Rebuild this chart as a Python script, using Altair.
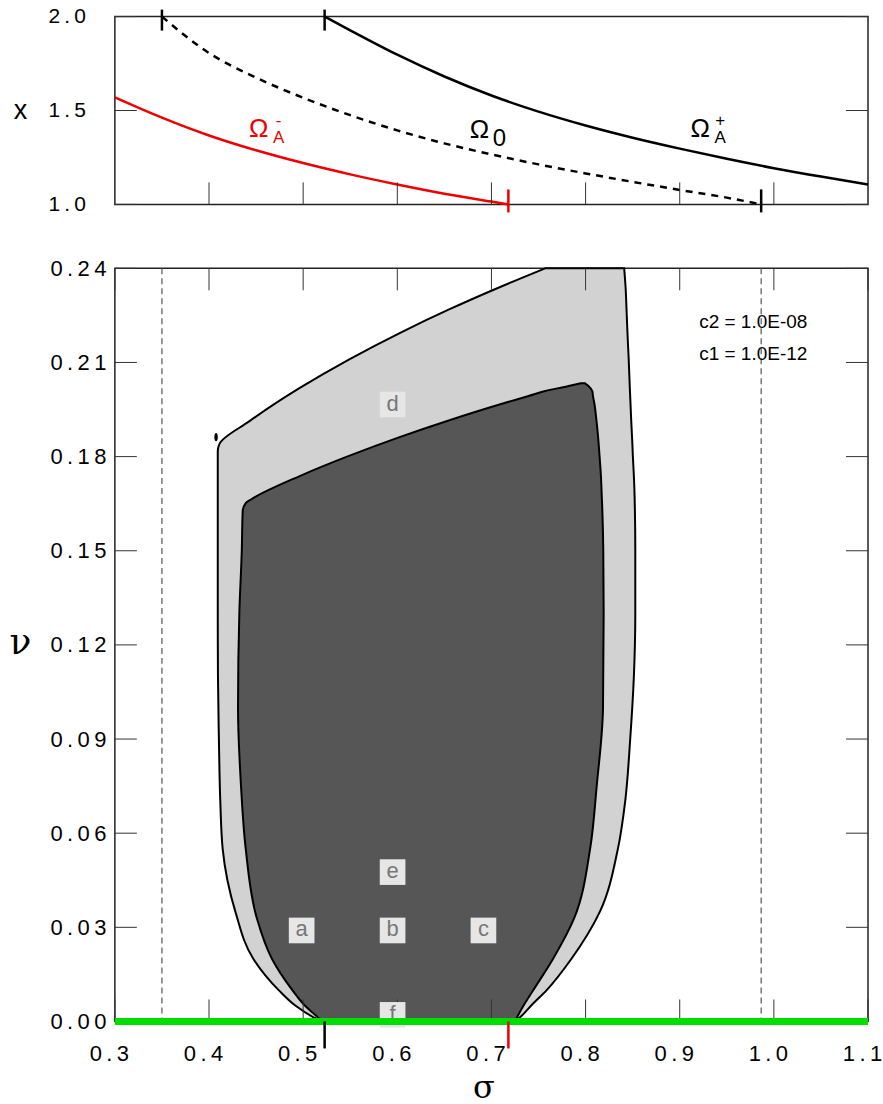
import altair as alt
import pandas as pd

# ---------------- top panel: x(sigma) on the three branches ----------------
omm_sigma = [0.30, 0.35, 0.40, 0.45, 0.50, 0.55, 0.60, 0.65, 0.70, 0.718]
omm_x = [1.570, 1.462, 1.367, 1.288, 1.220, 1.160, 1.106, 1.057, 1.015, 1.000]

om0_sigma = [0.35, 0.40, 0.45, 0.50, 0.55, 0.60, 0.65, 0.70, 0.75, 0.80, 0.85, 0.90, 0.95, 0.9865]
om0_x = [2.000, 1.806, 1.675, 1.568, 1.475, 1.394, 1.325, 1.266, 1.213, 1.165, 1.120, 1.077, 1.036, 1.000]

omp_sigma = [0.5228, 0.55, 0.60, 0.65, 0.70, 0.75, 0.80, 0.85, 0.90, 0.95, 1.00, 1.05, 1.10]
omp_x = [2.000, 1.927, 1.797, 1.681, 1.580, 1.494, 1.420, 1.355, 1.297, 1.243, 1.193, 1.148, 1.106]

# branch labels: main glyph, subscript, superscript
lab_main = ["Ω", "Ω", "Ω"]
lab_sub = ["A", "0", "A"]
lab_sup = ["-", "", "+"]
lab_color = ["#ee0000", "black", "black"]
lab_sigma = [0.4528, 0.6873, 0.9217]
lab_x = [1.399, 1.394, 1.399]

# ---------------- bottom panel: stability regions in (sigma, nu) ----------------
# outer (light) region: left / right sigma boundary at each nu
outer_nu = [0.0, 0.0015, 0.005, 0.01, 0.02, 0.035, 0.055, 0.07, 0.09, 0.11, 0.13,
            0.15, 0.17, 0.1817, 0.184, 0.1913, 0.2018, 0.2110, 0.2193, 0.2269, 0.2339, 0.24]
outer_left = [0.520, 0.510, 0.492, 0.474, 0.447, 0.428, 0.4145, 0.412, 0.4105, 0.4095, 0.4093,
              0.4093, 0.4093, 0.4093, 0.411, 0.443, 0.496, 0.549, 0.602, 0.655, 0.708, 0.757]
outer_right = [0.725, 0.731, 0.742, 0.7587, 0.785, 0.8152, 0.8343, 0.842, 0.8474, 0.8513, 0.8528,
               0.8528, 0.8518, 0.850, 0.8497, 0.8485, 0.847, 0.8458, 0.8445, 0.8435, 0.8425, 0.841]

# inner (dark) region
inner_nu = [0.0, 0.0015, 0.005, 0.01, 0.02, 0.033, 0.055, 0.075, 0.10, 0.13, 0.15, 0.1627,
            0.1652, 0.1665, 0.1738, 0.1803, 0.1862, 0.1916, 0.1966, 0.1994, 0.2008, 0.2025, 0.2034]
inner_left = [0.520, 0.515, 0.502, 0.4885, 0.4668, 0.4507, 0.439, 0.434, 0.4308, 0.4322, 0.4348, 0.4358,
              0.439, 0.4454, 0.4963, 0.5493, 0.6024, 0.6554, 0.7085, 0.7403, 0.7560, 0.782, 0.795]
inner_right = [0.725, 0.7275, 0.734, 0.7445, 0.7655, 0.788, 0.8048, 0.8118, 0.8185, 0.8192, 0.8188, 0.8178,
               0.8175, 0.8173, 0.8163, 0.8148, 0.8133, 0.8115, 0.8095, 0.8078, 0.8072, 0.803, 0.799]

# region tags
tag_text = ["a", "b", "c", "d", "e", "f"]
tag_sigma = [0.4984, 0.595, 0.6915, 0.595, 0.595, 0.595]
tag_nu = [0.0290, 0.0290, 0.0290, 0.1966, 0.0476, 0.0021]

# parameter annotation
note_text = ["c2 = 1.0E-08", "c1 = 1.0E-12"]
note_sigma = [0.9207, 0.9207]
note_nu = [0.2228, 0.2126]

# small blob at the upper-left corner of the outer region
blob_sigma = [0.4075]
blob_nu = [0.1862]

# axis ticks
top_xticks = [0.4, 0.5, 0.6, 0.7, 0.8, 0.9, 1.0]
top_yticks = [1.0, 1.5, 2.0]
bot_xticks = [0.3, 0.4, 0.5, 0.6, 0.7, 0.8, 0.9, 1.0, 1.1]
bot_yticks = [0.0, 0.03, 0.06, 0.09, 0.12, 0.15, 0.18, 0.21, 0.24]

# ---------------- styling ----------------
W = 754
H_TOP = 188
H_BOT = 754
TICK = 22
TICK_COLOR = "#333333"
SANS = "Liberation Sans"
GREEK = "DejaVu Serif"
THIN = "\u2009"

xs = alt.Scale(domain=[0.3, 1.1], nice=False, zero=False)
ys_top = alt.Scale(domain=[1.0, 2.0], nice=False, zero=False)
ys_bot = alt.Scale(domain=[0.0, 0.24], nice=False, zero=False)


def spaced(fmt):
    return "join(split(format(datum.value, '%s'), ''), '%s')" % (fmt, THIN)


common_axis = dict(ticks=False, domain=False, grid=False, labelFont=SANS, labelColor="black",
                   labelFlush=False, labelOverlap=False, labelBound=False,
                   titleFontWeight="normal", titleAlign="center", titleBaseline="middle",
                   titleColor="black")

top_x_axis = alt.Axis(values=top_xticks, labels=False, title=None, **common_axis)
top_y_axis = alt.Axis(
    values=top_yticks, labelExpr=spaced(".1f"), labelAlign="left", labelPadding=67, labelFontSize=21,
    title="x", titleAngle=0, titleX=-95, titleY=94, titleFont=SANS, titleFontSize=27, **common_axis)
bot_x_axis = alt.Axis(
    values=bot_xticks, labelExpr=spaced(".1f"), labelPadding=22, labelFontSize=22, labelBaseline="top",
    labelOffset=-6,
    title="σ", titleX=369, titleY=66, titleFont=GREEK, titleFontSize=32, **common_axis)
bot_y_axis = alt.Axis(
    values=bot_yticks, labelExpr=spaced(".2f"), labelAlign="left", labelPadding=65, labelFontSize=22,
    title="ν", titleAngle=0, titleX=-95, titleY=375, titleFont=GREEK, titleFontSize=36, **common_axis)


def panel_channels(x_axis, y_axis, y_scale):
    def X(field):
        return alt.X(field, scale=xs, axis=x_axis)

    def Y(field):
        return alt.Y(field, scale=y_scale, axis=y_axis)
    return X, Y


TX, TY = panel_channels(top_x_axis, top_y_axis, ys_top)
BX, BY = panel_channels(bot_x_axis, bot_y_axis, ys_bot)


def tick_rules(values, channel, side, h, X, Y):
    d = pd.DataFrame({"t": values})
    base = alt.Chart(d).mark_rule(color=TICK_COLOR, strokeWidth=1)
    if channel == "y":
        enc = dict(y=Y("t:Q"))
        if side == "left":
            enc.update(x=alt.value(0), x2=alt.value(TICK))
        else:
            enc.update(x=alt.value(W - TICK), x2=alt.value(W))
    else:
        enc = dict(x=X("t:Q"))
        if side == "bottom":
            enc.update(y=alt.value(h - TICK), y2=alt.value(h))
        else:
            enc.update(y=alt.value(0), y2=alt.value(TICK))
    return base.encode(**enc)


# ---------------- top panel ----------------
minus_df = pd.DataFrame({"s": omm_sigma, "v": omm_x})
zero_df = pd.DataFrame({"s": om0_sigma, "v": om0_x})
plus_df = pd.DataFrame({"s": omp_sigma, "v": omp_x})

line_minus = alt.Chart(minus_df).mark_line(color="#ee0000", strokeWidth=2.5, interpolate="monotone").encode(
    x=TX("s:Q"), y=TY("v:Q"))
line_zero = alt.Chart(zero_df).mark_line(color="black", strokeWidth=2.5, strokeDash=[7, 6],
                                         interpolate="monotone").encode(x=TX("s:Q"), y=TY("v:Q"))
line_plus = alt.Chart(plus_df).mark_line(color="black", strokeWidth=2.5, interpolate="monotone").encode(
    x=TX("s:Q"), y=TY("v:Q"))

lab_df = pd.DataFrame({"s": lab_sigma, "v": lab_x, "main": lab_main, "sub": lab_sub,
                       "sup": lab_sup, "c": lab_color,
                       "subsize": [17 if t == "A" else 24 for t in lab_sub]})
lab_enc = dict(x=TX("s:Q"), y=TY("v:Q"), color=alt.Color("c:N", scale=None))
lab_main_layer = alt.Chart(lab_df).mark_text(font=SANS, fontSize=26, baseline="middle", align="center").encode(
    text="main:N", **lab_enc)
lab_sub_layer = alt.Chart(lab_df).mark_text(font=SANS, baseline="middle", align="center", dx=20, dy=9).encode(
    text="sub:N", size=alt.Size("subsize:Q", scale=None), **lab_enc)
lab_sup_layer = alt.Chart(lab_df).mark_text(font=SANS, fontSize=17, baseline="middle", align="center",
                                            dx=20, dy=-8).encode(text="sup:N", **lab_enc)

# where branches meet x = 2 and x = 1
top_marks_df = pd.DataFrame({"s": [om0_sigma[0], omp_sigma[0]], "c": ["black", "black"]})
bot_marks_df = pd.DataFrame({"s": [omm_sigma[-1], om0_sigma[-1]], "c": ["#ee0000", "black"]})
top_marks = alt.Chart(top_marks_df).mark_rule(strokeWidth=2.5).encode(
    x=TX("s:Q"), y=alt.value(-7), y2=alt.value(14), color=alt.Color("c:N", scale=None))
bot_marks = alt.Chart(bot_marks_df).mark_rule(strokeWidth=2.5).encode(
    x=TX("s:Q"), y=alt.value(H_TOP - 15), y2=alt.value(H_TOP + 8), color=alt.Color("c:N", scale=None))

top = alt.layer(
    line_minus, line_zero, line_plus,
    tick_rules(top_yticks, "y", "left", H_TOP, TX, TY),
    tick_rules(top_yticks, "y", "right", H_TOP, TX, TY),
    tick_rules(top_xticks, "x", "bottom", H_TOP, TX, TY),
    lab_main_layer, lab_sub_layer, lab_sup_layer,
    top_marks, bot_marks,
).properties(width=W, height=H_TOP)

# ---------------- bottom panel ----------------
outer_df = pd.DataFrame({"nu": outer_nu, "L": outer_left, "R": outer_right})
inner_df = pd.DataFrame({"nu": inner_nu, "L": inner_left, "R": inner_right})

outer_area = alt.Chart(outer_df).mark_area(
    orient="horizontal", fill="#d2d2d2", stroke="black", strokeWidth=2, interpolate="monotone"
).encode(y=BY("nu:Q"), x=BX("L:Q"), x2="R:Q")
inner_area = alt.Chart(inner_df).mark_area(
    orient="horizontal", fill="#565656", stroke="black", strokeWidth=2, interpolate="monotone"
).encode(y=BY("nu:Q"), x=BX("L:Q"), x2="R:Q")

ELLIPSE = "M0,-1 C0.55,-1 0.55,1 0,1 C-0.55,1 -0.55,-1 0,-1 Z"
blob = alt.Chart(pd.DataFrame({"s": blob_sigma, "nu": blob_nu})).mark_point(
    shape=ELLIPSE, filled=True, color="black", size=70, opacity=1
).encode(x=BX("s:Q"), y=BY("nu:Q"))

dashed = alt.Chart(pd.DataFrame({"s": [om0_sigma[0], om0_sigma[-1]]})).mark_rule(
    color="#555555", strokeWidth=1.2, strokeDash=[6, 4]
).encode(x=BX("s:Q"), y=alt.value(0), y2=alt.value(H_BOT))

tag_df = pd.DataFrame({"s": tag_sigma, "nu": tag_nu, "t": tag_text})
tag_box = alt.Chart(tag_df).mark_square(color="#e6e6e6", size=660, opacity=1).encode(
    x=BX("s:Q"), y=BY("nu:Q"))
tag_label = alt.Chart(tag_df).mark_text(font=SANS, fontSize=22, color="#777777", baseline="middle",
                                        align="center", dy=-1).encode(x=BX("s:Q"), y=BY("nu:Q"), text="t:N")

green = alt.Chart(pd.DataFrame({"nu": [0.0]})).mark_rule(color="#00dd00", strokeWidth=7).encode(
    y=BY("nu:Q"), x=alt.value(0), x2=alt.value(W))

axis_marks = alt.Chart(pd.DataFrame({"s": [omp_sigma[0], omm_sigma[-1]], "c": ["black", "#ee0000"]})).mark_rule(
    strokeWidth=2.5).encode(x=BX("s:Q"), y=alt.value(H_BOT), y2=alt.value(H_BOT + 27),
                            color=alt.Color("c:N", scale=None))

notes = alt.Chart(pd.DataFrame({"s": note_sigma, "nu": note_nu, "t": note_text})).mark_text(
    font=SANS, fontSize=19, color="black", align="left", baseline="middle"
).encode(x=BX("s:Q"), y=BY("nu:Q"), text="t:N")

bottom = alt.layer(
    outer_area, inner_area, blob, dashed,
    tick_rules(bot_yticks, "y", "left", H_BOT, BX, BY),
    tick_rules(bot_yticks, "y", "right", H_BOT, BX, BY),
    tick_rules(bot_xticks, "x", "bottom", H_BOT, BX, BY),
    tick_rules(bot_xticks, "x", "top", H_BOT, BX, BY),
    tag_box, tag_label, green, axis_marks, notes,
).properties(width=W, height=H_BOT)

chart = alt.vconcat(top, bottom, spacing=64, bounds="flush").configure_view(
    stroke="#222222", strokeWidth=1.5
).properties(padding={"left": 8, "top": 4, "right": 0, "bottom": 0}, background="white")

chart.save("out.html", embed_options={"renderer": "svg", "actions": False})
